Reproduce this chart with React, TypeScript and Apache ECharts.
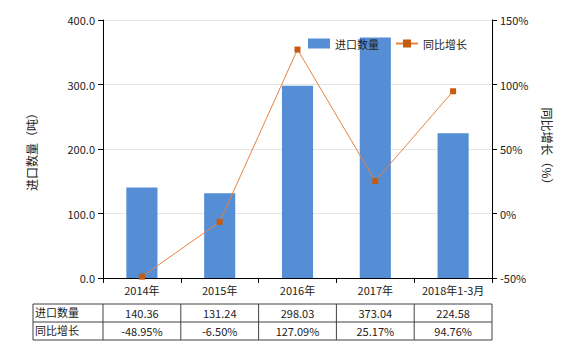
import React, { useEffect, useRef } from "react";
import * as echarts from "echarts";

const categories = ["2014年", "2015年", "2016年", "2017年", "2018年1-3月"];
const importQty = [140.36, 131.24, 298.03, 373.04, 224.58];
const yoyGrowth = [-48.95, -6.5, 127.09, 25.17, 94.76];
const qtyLabels = ["140.36", "131.24", "298.03", "373.04", "224.58"];
const yoyLabels = ["-48.95%", "-6.50%", "127.09%", "25.17%", "94.76%"];
const rowHeaders = ["进口数量", "同比增长"];

const FONT = "'Noto Sans CJK SC', 'Noto Sans', sans-serif";

export default function App() {
  const ref = useRef<HTMLDivElement>(null);
  useEffect(() => {
    document.body.style.margin = "0";
    const chart = echarts.init(ref.current!, undefined, { renderer: "svg" });
    const gridLeft = 103;
    const gridRight = 492;
    const lineColor = "#404040";
    const tableLines: any[] = [];
    const hs = [304, 322, 340];
    hs.forEach((y) =>
      tableLines.push({ type: "line", shape: { x1: 33, y1: y, x2: gridRight, y2: y }, style: { stroke: lineColor, lineWidth: 1 } })
    );
    const colW = (gridRight - gridLeft) / categories.length;
    const vs = [33, gridLeft];
    for (let i = 1; i <= categories.length; i++) vs.push(gridLeft + colW * i);
    vs.forEach((x) =>
      tableLines.push({ type: "line", shape: { x1: x, y1: 304, x2: x, y2: 340 }, style: { stroke: lineColor, lineWidth: 1 } })
    );
    rowHeaders.forEach((t, i) =>
      tableLines.push({
        type: "text",
        left: 35,
        top: 306 + i * 18,
        style: { text: t, font: `11px ${FONT}`, fill: "#222" },
      })
    );
    const tableAxis = (data: string[], offset: number) => ({
      type: "category",
      data,
      position: "bottom",
      offset,
      gridIndex: 0,
      axisLine: { show: false },
      axisTick: { show: false },
      axisLabel: { fontSize: 11, fontFamily: FONT, color: "#222", margin: 8, interval: 0 },
    });
    chart.setOption({
      animation: false,
      textStyle: { fontFamily: FONT },
      grid: { left: gridLeft, right: 580 - gridRight, top: 20, bottom: 72 },
      legend: {
        left: 303,
        top: 33,
        itemWidth: 22,
        itemHeight: 10,
        itemGap: 16,
        textStyle: { fontSize: 11, fontFamily: FONT, color: "#222" },
        data: [{ name: "进口数量", icon: "rect" }, { name: "同比增长" }],
      },
      xAxis: [
        {
          type: "category",
          data: categories,
          axisLine: { lineStyle: { color: "#000" } },
          axisTick: { show: true, lineStyle: { color: "#000" } },
          axisLabel: { fontSize: 11, fontFamily: FONT, color: "#222", margin: 6, interval: 0 },
        },
        tableAxis(qtyLabels, 21),
        tableAxis(yoyLabels, 39),
      ],
      yAxis: [
        {
          type: "value",
          min: 0,
          max: 400,
          interval: 100,
          name: "进口数量（吨）",
          nameLocation: "middle",
          nameRotate: 90,
          nameGap: 66,
          nameTextStyle: { fontSize: 12, fontFamily: FONT, color: "#222" },
          axisLine: { show: true, lineStyle: { color: "#000" } },
          axisTick: { show: true, lineStyle: { color: "#000" } },
          axisLabel: { fontSize: 11, fontFamily: FONT, color: "#222", formatter: (v: number) => v.toFixed(1) },
          splitLine: { lineStyle: { color: "#e6e6e6" } },
        },
        {
          type: "value",
          min: -50,
          max: 150,
          interval: 50,
          name: "同比增长（%）",
          nameLocation: "middle",
          nameRotate: -90,
          nameGap: 49,
          nameTextStyle: { fontSize: 12, fontFamily: FONT, color: "#222" },
          axisLine: { show: true, lineStyle: { color: "#000" } },
          axisTick: { show: true, lineStyle: { color: "#000" } },
          axisLabel: { fontSize: 11, fontFamily: FONT, color: "#222", formatter: "{value}%" },
          splitLine: { show: false },
        },
      ],
      series: [
        {
          name: "进口数量",
          type: "bar",
          data: importQty,
          barWidth: "40%",
          itemStyle: { color: "#558ed5" },
        },
        {
          name: "同比增长",
          type: "line",
          yAxisIndex: 1,
          data: yoyGrowth,
          symbol: "rect",
          symbolSize: 6,
          lineStyle: { color: "#e8823f", width: 1 },
          itemStyle: { color: "#c55a11" },
        },
      ],
      graphic: tableLines,
    });
    return () => chart.dispose();
  }, []);
  return <div ref={ref} style={{ width: 580, height: 350 }} />;
}
